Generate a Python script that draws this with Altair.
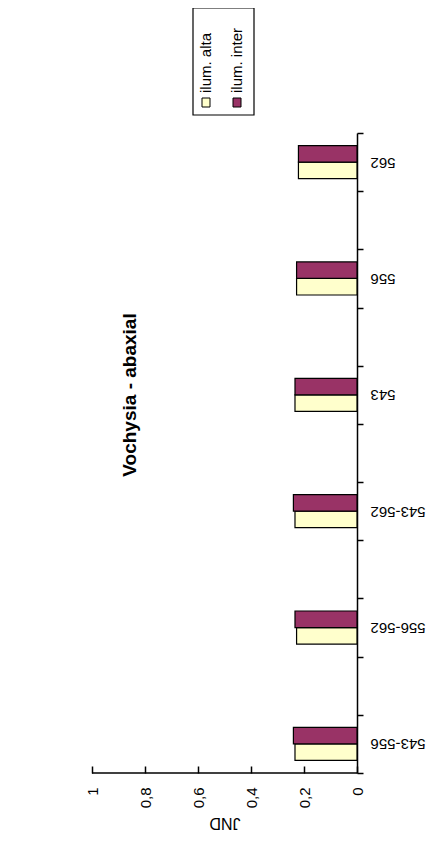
import altair as alt
import pandas as pd

# ---- data ----
categories = ["543-556", "556-562", "543-562", "543", "556", "562"]
alta = [0.234, 0.228, 0.234, 0.234, 0.228, 0.221]
inter = [0.240, 0.234, 0.240, 0.234, 0.228, 0.221]
series = ["ilum. alta", "ilum. inter"]
colors = ["#FFFFCC", "#993366"]
value_ticks = [0, 0.2, 0.4, 0.6, 0.8, 1]
title_text = "Vochysia - abaxial"
axis_title = "JND"

PLOT_W = 265
PLOT_H = 640
FONT = "Liberation Sans"

# category slots from top to bottom, with empty spacer slots between them
slots = []
rev = list(reversed(categories))
for i, c in enumerate(rev):
    slots.append(c)
    if i < len(rev) - 1:
        slots.append(" " * (i + 1))

rows = []
for c, a, b in zip(categories, alta, inter):
    rows.append({"category": c, "series": series[0], "value": a})
    rows.append({"category": c, "series": series[1], "value": b})
df = pd.DataFrame(rows)

color_scale = alt.Scale(domain=series, range=colors)

bars = alt.Chart(df).mark_bar(stroke="black", strokeWidth=1.2).encode(
    x=alt.X(
        "value:Q",
        scale=alt.Scale(domain=[0, 1], reverse=True),
        axis=alt.Axis(
            values=value_ticks,
            labelExpr="replace(format(datum.value, '~g'), '.', ',')",
            labelAngle=270,
            labelAlign="right",
            labelBaseline="middle",
            labelFontSize=15,
            domain=False,
            tickSize=7,
            offset=-7,
            labelPadding=14,
            grid=False,
            title=axis_title,
            titleAngle=180,
            titleBaseline="bottom",
            titleFontSize=16,
            titleFontWeight="normal",
            titlePadding=7,
        ),
    ),
    y=alt.Y(
        "category:N",
        scale=alt.Scale(domain=slots, paddingInner=0, paddingOuter=0),
        axis=alt.Axis(
            orient="right",
            tickBand="extent",
            labelAngle=180,
            labelAlign="right",
            labelBaseline="middle",
            labelFontSize=15,
            tickSize=6,
            labelPadding=7,
            title=None,
            grid=False,
        ),
    ),
    yOffset=alt.YOffset(
        "series:N",
        scale=alt.Scale(domain=[series[1], series[0]], paddingOuter=0.76, paddingInner=0),
    ),
    color=alt.Color("series:N", scale=color_scale, legend=None),
)

base_line = alt.Chart(pd.DataFrame({"v": [0]})).mark_rule(color="black", strokeWidth=1.5).encode(
    x=alt.datum(0), x2=alt.datum(1), y=alt.value(PLOT_H)
)

title_mark = alt.Chart(pd.DataFrame({"t": [title_text]})).mark_text(
    angle=270, align="center", baseline="middle", fontSize=19, fontWeight="bold", font=FONT
).encode(x=alt.value(38), y=alt.value(262), text="t:N")

legend_box = alt.Chart(pd.DataFrame({"v": [0]})).mark_rect(
    fill="white", stroke="black", strokeWidth=1.2
).encode(x=alt.value(101), x2=alt.value(162), y=alt.value(-125), y2=alt.value(-18))

legend_df = pd.DataFrame({"series": series})
legend_layers = []
for i, (s, xc) in enumerate(zip(series, [114, 145])):
    sq = alt.Chart(legend_df).transform_filter(alt.datum.series == s).mark_rect(
        stroke="black", strokeWidth=1
    ).encode(
        x=alt.value(xc - 4), x2=alt.value(xc + 4), y=alt.value(-35), y2=alt.value(-26),
        color=alt.Color("series:N", scale=color_scale, legend=None),
    )
    tx = alt.Chart(legend_df).transform_filter(alt.datum.series == s).mark_text(
        angle=270, align="left", baseline="middle", fontSize=15, font=FONT
    ).encode(x=alt.value(xc), y=alt.value(-40), text="series:N")
    legend_layers += [sq, tx]

chart = alt.layer(bars, base_line, title_mark, legend_box, *legend_layers).properties(
    width=PLOT_W,
    height=PLOT_H,
    autosize=alt.AutoSizeParams(type="none"),
    padding={"left": 84, "top": 125, "right": 70, "bottom": 66},
).configure_view(stroke=None).configure_axis(
    labelFont=FONT, titleFont=FONT, labelColor="black", titleColor="black",
    domainColor="black", tickColor="black", domainWidth=1.5, tickWidth=1.5,
)

chart.save("out.html", embed_options={"renderer": "svg", "actions": False})
